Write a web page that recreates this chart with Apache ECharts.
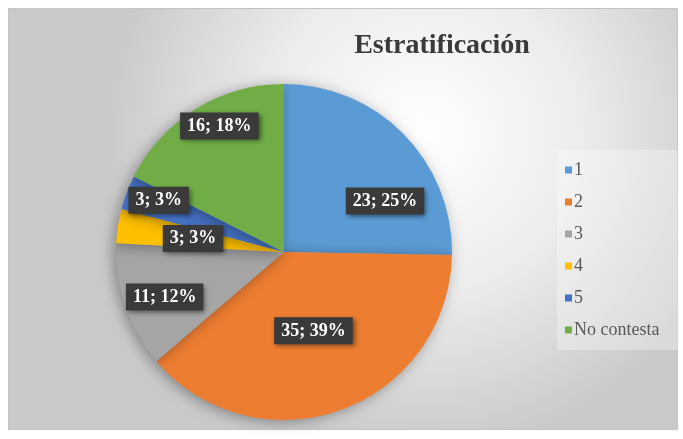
<!DOCTYPE html>
<html><head><meta charset="utf-8">
<script src="https://cdn.jsdelivr.net/npm/echarts@6/dist/echarts.min.js"></script>
<style>html,body{margin:0;padding:0;background:#fff}#c{width:683px;height:439px}</style>
</head><body><div id="c"></div>
<script>
const categories = ['1', '2', '3', '4', '5', 'No contesta'];
const counts = [23, 35, 11, 3, 3, 16];
const percents = ['25%', '39%', '12%', '3%', '3%', '18%'];
const colors = ['#5B9BD5', '#ED7D31', '#A5A5A5', '#FFC000', '#4472C4', '#70AD47'];
const labelShift = [[39, 10], [0, -3], [-37, 17], [-5, 0], [-44, -21], [-19, -52]];

const chart = echarts.init(document.getElementById('c'));
chart.setOption({
  animation: false,
  graphic: [{
    type: 'rect', z: -10, silent: true,
    shape: { x: 8.5, y: 8.5, width: 669, height: 421 },
    style: {
      fill: {
        type: 'radial', x: 0.62, y: 0.3, r: 0.75,
        colorStops: [{ offset: 0, color: '#ffffff' }, { offset: 0.5, color: '#ececec' }, { offset: 1, color: '#cacaca' }]
      },
      stroke: '#c4c4c4', lineWidth: 1
    }
  }],
  title: {
    text: 'Estratificación', left: 437, top: 27, textAlign: 'center',
    textStyle: { fontFamily: 'Liberation Serif', fontWeight: 'bold', fontSize: 28, color: '#3a3a3a' }
  },
  legend: {
    orient: 'vertical', left: 557, top: 150,
    padding: [11, 30, 11, 8],
    backgroundColor: 'rgba(255,255,255,0.3)',
    icon: 'rect', itemWidth: 7, itemHeight: 7, itemGap: 14,
    data: categories,
    textStyle: { fontFamily: 'Liberation Serif', fontSize: 18, color: '#595959', padding: [0, 0, 0, -3] }
  },
  series: [{
    type: 'pie',
    center: [284, 252], radius: 168,
    startAngle: 90, clockwise: true,
    color: colors,
    itemStyle: { shadowBlur: 14, shadowColor: 'rgba(0,0,0,0.35)', shadowOffsetX: -3, shadowOffsetY: 2 },
    label: {
      show: true, position: 'inside',
      formatter: p => p.value + '; ' + percents[p.dataIndex],
      fontFamily: 'Liberation Serif', fontWeight: 'bold', fontSize: 18, color: '#ffffff',
      backgroundColor: '#3a3a3a', padding: [5, 7, 4, 7],
      shadowBlur: 5, shadowColor: 'rgba(0,0,0,0.5)', shadowOffsetX: 2, shadowOffsetY: 2
    },
    labelLine: { show: false },
    labelLayout: p => ({ dx: labelShift[p.dataIndex][0], dy: labelShift[p.dataIndex][1] }),
    emphasis: { disabled: true },
    data: categories.map((c, i) => ({ name: c, value: counts[i] }))
  }]
});
</script></body></html>
